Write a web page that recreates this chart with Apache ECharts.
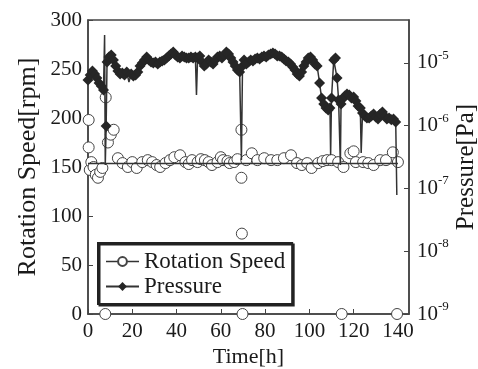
<!DOCTYPE html>
<html>
<head>
<meta charset="utf-8">
<script src="https://cdn.jsdelivr.net/npm/echarts@6/dist/echarts.min.js"></script>
<style>
html,body{margin:0;padding:0;background:#fff;}
#chart{width:478px;height:369px;}
</style>
</head>
<body>
<div id="chart"></div>
<script>
// ---------------- data ----------------
var xTickLabels = [0, 20, 40, 60, 80, 100, 120, 140];
var leftTickLabels = [0, 50, 100, 150, 200, 250, 300];
var rightTickLabels = ['10^-9', '10^-8', '10^-7', '10^-6', '10^-5'];

// Rotation speed (hollow circles)
var rotationTimes = [0.3, 0.3, 0.8, 1.5, 2.5, 3.5, 4.5, 5.5, 6.5, 7.8, 8.0, 9.0, 10.3, 11.6,
  13.5, 15.6, 18, 20, 22, 24.5, 27, 29, 31, 32.6, 35, 37, 39, 41.6, 44, 45.5, 47, 49.5, 51,
  52.8, 54.5, 56, 58.5, 60, 61, 63, 64, 66, 67.5, 69.3, 69.3, 69.5, 69.8, 71.5, 74, 76.5,
  79.6, 82.7, 85.5, 88.5, 91.7, 94.4, 96.6, 99, 101, 104, 106, 108, 110, 113, 114.6, 115.4,
  118.5, 120, 121, 124.3, 126.6, 129, 132, 134.6, 137.7, 139.6, 140];
var rotationSpeeds = [198, 170, 147, 155, 150, 142, 139, 145, 149, 0, 221, 175, 183, 188,
  159, 154, 150, 155, 149, 155, 157, 155, 152, 150, 154, 157, 160, 162, 155, 153, 157, 155, 158,
  157, 155, 152, 155, 160, 157, 156, 154, 155, 158, 188, 139, 82, 0, 157, 164, 157,
  159, 157, 157, 159, 162, 154, 152, 154, 149, 154, 156, 157, 157, 155, 0, 150,
  164, 166, 155, 155, 154, 152, 157, 157, 165, 0, 155];
var rotationLineLevel = 154;      // flat line drawn through the speed data
var rotationLineRange = [0, 140];

// Pressure (filled diamonds, log scale)
var pressureTimes = [0, 1, 2, 3, 4, 5, 6, 7, 7.5, 7.8, 8.2, 8.6, 9.5, 10.5, 11.5, 12.5, 13.5,
  14.5, 15.5, 16.5, 17.5, 18.5, 19.5, 20.5, 21.5, 22.5, 23.5, 24.5, 25.5, 26.5, 27.5, 28.5,
  29.5, 30.5, 31.5, 32.5, 33.5, 34.5, 35.5, 36.5, 37.5, 38.5, 39.5, 40.5, 41.5, 42.5, 43.5,
  44.5, 45.5, 46.5, 47.5, 48.5, 49, 49.5, 50.5, 51.5, 52.5, 53.5, 54.5, 55.5, 56.5, 57.5,
  58.5, 59.5, 60.5, 61.5, 62.5, 63.5, 64.5, 65.5, 66.5, 67.5, 68.5, 69.3, 69.8, 70.5, 71.5,
  72.5, 73.5, 74.5, 75.5, 76.5, 77.5, 78.5, 79.5, 80.5, 81.5, 82.5, 83.5, 84.5, 85.5, 86.5,
  87.5, 88.5, 89.5, 90.5, 91.5, 92.5, 93.5, 94.5, 95.5, 96.5, 97.5, 98.5, 99.5, 100.5, 101.5,
  102.5, 103.5, 104.6, 105.5, 106.5, 107.5, 108.5, 109.3, 109.6, 110, 111, 111.8, 112.5,
  113.2, 114, 114.3, 115, 116, 117, 118, 119, 120, 121, 122, 123, 123.4, 124, 125, 126, 127,
  128, 129, 130, 131, 132, 133, 134, 135, 136, 137, 138, 139, 139.5];
var pressureValues = [5.36e-6, 6.44e-6, 7.46e-6, 6.68e-6, 5.77e-6, 4.80e-6, 4.30e-6, 3.72e-6,
  2.79e-5, 2.37e-7, 9.9e-7, 1.04e-5, 1.25e-5, 1.34e-5, 1.12e-5, 8.95e-6, 7.46e-6,
  6.68e-6, 6.93e-6, 6.44e-6, 7.19e-6, 4.98e-6, 6.68e-6, 6.21e-6, 6.44e-6, 7.19e-6, 8.95e-6,
  1.0e-5, 1.12e-5, 1.25e-5, 1.12e-5, 1.04e-5,
  1.0e-5, 1.04e-5, 9.64e-6, 1.04e-5, 1.08e-5, 1.12e-5, 1.20e-5, 1.29e-5, 1.39e-5, 1.50e-5,
  1.34e-5, 1.25e-5, 1.20e-5, 1.29e-5, 1.25e-5,
  1.20e-5, 1.20e-5, 1.25e-5, 1.20e-5, 1.25e-5, 3.09e-6, 1.20e-5, 1.29e-5, 1.04e-5, 8.95e-6,
  9.64e-6, 1.12e-5, 1.04e-5, 9.64e-6, 1.12e-5,
  1.25e-5, 1.29e-5, 1.20e-5, 1.34e-5, 1.50e-5, 1.39e-5, 1.20e-5, 1.04e-5, 8.95e-6, 7.73e-6,
  7.19e-6, 2.85e-7, 8.95e-6, 1.12e-5, 9.64e-6,
  1.04e-5, 1.12e-5, 1.08e-5, 1.16e-5, 1.20e-5, 1.16e-5, 1.25e-5, 1.29e-5, 1.25e-5, 1.34e-5,
  1.39e-5, 1.44e-5, 1.39e-5, 1.29e-5, 1.29e-5,
  1.25e-5, 1.16e-5, 1.08e-5, 1.04e-5, 9.64e-6, 8.63e-6, 7.73e-6, 6.68e-6, 6.21e-6, 7.19e-6,
  8.95e-6, 1.04e-5, 1.20e-5, 1.25e-5, 1.12e-5,
  9.64e-6, 8.95e-6, 4.80e-6, 2.77e-6, 2.22e-6, 1.92e-6, 1.78e-6, 1.92e-6, 3.42e-7, 2.77e-6,
  1.12e-5, 1.20e-5, 5.77e-6,
  2.57e-6, 2.37e-7, 2.22e-6, 2.67e-6, 2.98e-6, 3.21e-6, 3.09e-6, 2.77e-6, 2.87e-6, 2.48e-6,
  2.07e-6, 1.92e-6, 3.68e-7, 1.60e-6, 1.43e-6, 1.33e-6, 1.33e-6,
  1.43e-6, 1.54e-6, 1.38e-6, 1.28e-6, 1.54e-6, 1.66e-6, 1.43e-6, 1.28e-6, 1.33e-6, 1.24e-6,
  1.28e-6, 1.15e-6, 7.9e-8];
// momentary gauge glitches (drawn as line only, no marker)
var pressureGlitchTimes = [7.5, 7.8, 18.5, 49, 69.3, 109.6, 114, 123.4, 139.5];

// ---------------- chart ----------------
var FONT = '"Liberation Serif", "Times New Roman", serif';
var INK = '#1a1a1a';
var LINE = '#333333';

var rotationData = rotationTimes.map(function (t, i) { return [t, rotationSpeeds[i]]; });
var pressureData = pressureTimes.map(function (t, i) {
  var item = { value: [t, pressureValues[i]] };
  if (pressureGlitchTimes.indexOf(t) >= 0) item.symbol = 'none';
  return item;
});

var chart = echarts.init(document.getElementById('chart'), null, { renderer: 'canvas' });
chart.setOption({
  animation: false,
  backgroundColor: '#ffffff',
  grid: { left: 88, right: 69, top: 20, bottom: 55, containLabel: false, outerBoundsMode: 'none',
    show: true, borderColor: '#444', borderWidth: 1.5, backgroundColor: 'transparent' },
  legend: {
    orient: 'vertical',
    left: 98, top: 243,
    padding: [7, 7, 6, 7],
    itemGap: 2,
    itemWidth: 33, itemHeight: 11,
    backgroundColor: '#ffffff',
    borderColor: '#222', borderWidth: 2,
    shadowColor: '#222', shadowBlur: 0, shadowOffsetX: 1.5, shadowOffsetY: 1.5,
    textStyle: { fontFamily: FONT, fontSize: 23, color: INK, padding: [0, 0, 0, 0] },
    data: [
      { name: 'Rotation Speed', lineStyle: { opacity: 1, width: 1.3, color: LINE } },
      { name: 'Pressure' }
    ]
  },
  xAxis: {
    type: 'value', min: 0, max: 145, interval: 20,
    name: 'Time[h]', nameLocation: 'middle', nameGap: 32, nameMoveOverlap: false,
    nameTextStyle: { fontFamily: FONT, fontSize: 22, color: INK },
    axisLine: { show: true, lineStyle: { color: '#444', width: 1.5 } },
    axisTick: { show: true, inside: true, length: 5, lineStyle: { color: '#444' } },
    axisLabel: { fontFamily: FONT, fontSize: 21, color: INK, margin: 7, showMaxLabel: false,
      formatter: function (v) { return xTickLabels.indexOf(v) >= 0 ? String(v) : ''; } },
    splitLine: { show: false }
  },
  yAxis: [
    {
      type: 'value', min: leftTickLabels[0], max: leftTickLabels[leftTickLabels.length - 1], interval: 50,
      position: 'left',
      name: 'Rotation Speed[rpm]', nameLocation: 'middle', nameRotate: 90, nameGap: 47, nameMoveOverlap: false,
      nameTextStyle: { fontFamily: FONT, fontSize: 26, color: INK },
      axisLine: { show: true, lineStyle: { color: '#444', width: 1.5 } },
      axisTick: { show: true, inside: true, length: 5, lineStyle: { color: '#444' } },
      axisLabel: { fontFamily: FONT, fontSize: 21, color: INK, margin: 6 },
      splitLine: { show: false }
    },
    {
      type: 'log', logBase: 10, min: 1e-9, max: 4.84e-5,
      position: 'right',
      name: 'Pressure[Pa]', nameLocation: 'middle', nameRotate: 90, nameGap: 45, nameMoveOverlap: false,
      nameTextStyle: { fontFamily: FONT, fontSize: 25, color: INK },
      axisLine: { show: true, lineStyle: { color: '#444', width: 1.5 } },
      axisTick: { show: true, inside: true, length: 5, lineStyle: { color: '#444' } },
      minorTick: { show: false },
      axisLabel: {
        margin: 8, showMaxLabel: false,
        formatter: function (v) {
          var e = Math.round(Math.log10(v));
          var lbl = '10^' + e;
          if (rightTickLabels.indexOf(lbl) < 0) return '';
          return '{b|10}{s|' + e + '}';
        },
        rich: {
          b: { fontFamily: FONT, fontSize: 21, lineHeight: 28, color: INK },
          s: { fontFamily: FONT, fontSize: 13, lineHeight: 13, verticalAlign: 'top', color: INK }
        }
      },
      splitLine: { show: false }
    }
  ],
  series: [
    {
      name: 'Rotation Speed', type: 'line', yAxisIndex: 0,
      data: rotationData,
      symbol: 'circle', symbolSize: 11, showAllSymbol: true,
      itemStyle: { color: '#ffffff', borderColor: '#444', borderWidth: 1 },
      lineStyle: { opacity: 0, width: 1.3, color: LINE },
      emphasis: { disabled: true },
      silent: true,
      z: 2,
      markLine: {
        silent: true, symbol: 'none', label: { show: false },
        lineStyle: { type: 'solid', color: LINE, width: 1.3 },
        data: [[{ coord: [rotationLineRange[0], rotationLineLevel] }, { coord: [rotationLineRange[1], rotationLineLevel] }]]
      }
    },
    {
      name: 'Pressure', type: 'line', yAxisIndex: 1,
      data: pressureData,
      symbol: 'diamond', symbolSize: 11, showAllSymbol: true,
      itemStyle: { color: '#262626' },
      lineStyle: { color: LINE, width: 1.5 },
      emphasis: { disabled: true },
      silent: true,
      z: 3
    }
  ]
});
</script>
</body>
</html>
